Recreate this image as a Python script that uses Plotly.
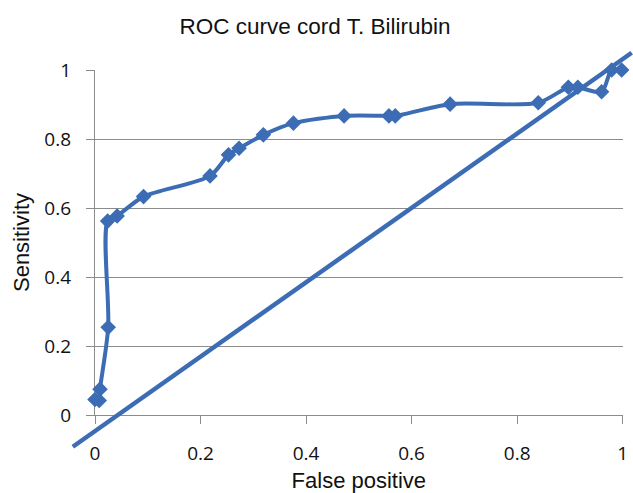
import plotly.graph_objects as go

# ROC curve points (False positive rate, Sensitivity)
fpr = [0.0, 0.008, 0.0095, 0.025, 0.024, 0.042, 0.092, 0.218, 0.253, 0.273,
       0.319, 0.376, 0.472, 0.557, 0.569, 0.673, 0.840, 0.897, 0.915, 0.960,
       0.979, 0.998]
sens = [0.045, 0.042, 0.075, 0.254, 0.562, 0.577, 0.633, 0.693, 0.754, 0.773,
        0.812, 0.846, 0.867, 0.867, 0.867, 0.901, 0.905, 0.950, 0.950, 0.937,
        1.0, 1.0]

# Reference diagonal line end points
diag_x = [-0.042, 1.017]
diag_y = [-0.092, 1.05]

tick_vals = [0, 0.2, 0.4, 0.6, 0.8, 1]
tick_text = ["0", "0.2", "0.4", "0.6", "0.8", "1"]

W, H = 633, 493
# plot-area pixel geometry of the main axes
x0_px, x1_px = 95, 622.7
y1_px, y0_px = 70, 415
ppx = (x1_px - x0_px)
ppy = (y0_px - y1_px)

blue = "#3C6DB4"
grid = "#8C8C8C"
tick_font = dict(family="Open Sans", size=19, color="#111111")
label_font = dict(family="Liberation Sans", size=22, color="#111111")

fig = go.Figure()
fig.add_trace(go.Scatter(
    x=fpr, y=sens, mode="lines+markers",
    line=dict(color=blue, width=4, shape="spline", smoothing=0.8),
    marker=dict(symbol="diamond", size=12, color=blue),
    cliponaxis=False, xaxis="x", yaxis="y", showlegend=False,
))
fig.add_trace(go.Scatter(
    x=diag_x, y=diag_y, mode="lines",
    line=dict(color=blue, width=4.5),
    xaxis="x2", yaxis="y2", showlegend=False,
))

fig.update_layout(
    width=W, height=H,
    margin=dict(l=0, r=0, t=0, b=0),
    paper_bgcolor="white", plot_bgcolor="rgba(0,0,0,0)",
    title=dict(text="ROC curve cord T. Bilirubin", x=315 / W, xanchor="center",
               y=1 - 26 / H, yanchor="middle", yref="container",
               font=dict(family="Liberation Sans", size=22.5, color="#111111")),
    xaxis=dict(domain=[x0_px / W, x1_px / W], range=[0, 1], anchor="y",
               tickvals=tick_vals, ticktext=tick_text, tickfont=tick_font,
               ticks="outside", ticklen=8, tickcolor=grid, tickwidth=1.3,
               showline=True, linecolor=grid, linewidth=1.3,
               showgrid=False, zeroline=False, automargin=False,
               layer="below traces", ticklabelstandoff=13,
               title=dict(text="False positive", standoff=10, font=label_font)),
    xaxis3=dict(overlaying="x", anchor="y", range=[0, 1],
                tickvals=tick_vals, showticklabels=False,
                ticks="inside", ticklen=7, tickcolor=grid, tickwidth=1.3,
                showline=False, showgrid=False, zeroline=False,
                automargin=False, layer="below traces"),
    yaxis=dict(domain=[(H - y0_px) / H, (H - y1_px) / H], range=[0, 1], anchor="x",
               tickvals=tick_vals, ticktext=tick_text, tickfont=tick_font,
               ticks="outside", ticklen=8, tickcolor=grid, tickwidth=1.3,
               showline=True, linecolor=grid, linewidth=1.3,
               showgrid=True, gridcolor=grid, gridwidth=1.3,
               zeroline=False, automargin=False,
               layer="below traces", ticklabelstandoff=11,
               title=dict(text="Sensitivity", standoff=8, font=label_font)),
    xaxis2=dict(domain=[0, 1], anchor="y2", visible=False,
                range=[-x0_px / ppx, (W - x0_px) / ppx]),
    yaxis2=dict(domain=[0, 1], anchor="x2", visible=False,
                range=[-(H - y0_px) / ppy, y0_px / ppy]),
)

fig.write_html("out.html", config={"displayModeBar": False},
               post_script="document.body.style.margin='0';document.body.style.overflow='hidden';")
